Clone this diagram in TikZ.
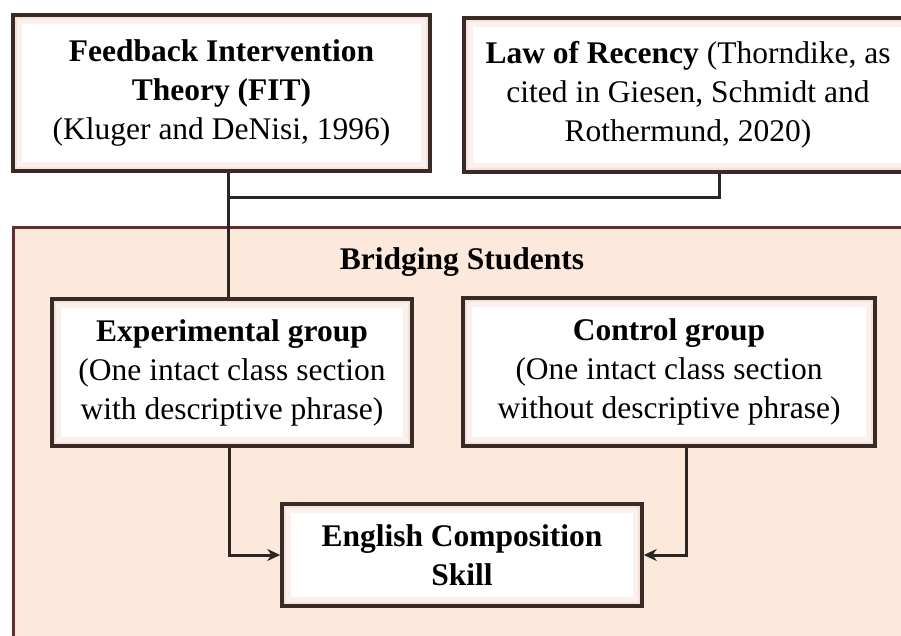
\documentclass[tikz,border=0pt]{standalone}
\usepackage{fontspec}
\setmainfont{Liberation Serif}
\usetikzlibrary{arrows.meta}
\definecolor{panelfill}{HTML}{FCE9DC}
\definecolor{panelline}{HTML}{6B2A2A}
\definecolor{boxline}{HTML}{3A2A26}
\definecolor{boxglow}{HTML}{EFCFC4}
\definecolor{linkline}{HTML}{2A2624}
\tikzset{
  box/.style={draw=boxline, line width=3.5, fill=white, align=center, inner sep=0pt,
    font=\fontsize{31.5}{39}\selectfont,
    path picture={
      \draw[boxglow!30, line width=18] (path picture bounding box.south west) rectangle (path picture bounding box.north east);
      \draw[boxglow!60, line width=8] (path picture bounding box.south west) rectangle (path picture bounding box.north east);
    }},
  link/.style={draw=linkline, line width=3},
  arr/.style={link, -{Stealth[length=13, width=12]}},
}
\begin{document}
\begin{tikzpicture}[x=1pt, y=-1pt]
  \useasboundingbox (0, 0) rectangle (901, 636);
  \clip (0, 0) rectangle (901, 636);
  \fill[white] (0, 0) rectangle (901, 636);
  \filldraw[fill=panelfill, draw=panelline, line width=3] (13, 228) rectangle (920, 660);
  \draw (462, 262) node[font=\bfseries\fontsize{31.5}{39}\selectfont] (title) {Bridging Students};
  \draw (228, 198) coordinate (j1) {};
  \draw (719, 198) coordinate (j2) {};
  \draw (229, 555) coordinate (c1) {};
  \draw (686, 555) coordinate (c2) {};
  \draw (221.5, 93) node[box, minimum width=417, minimum height=156] (fit)
    {\textbf{Feedback Intervention}\\ \textbf{Theory (FIT)}\\ (Kluger and DeNisi, 1996)};
  \draw (688, 95) node[box, minimum width=448, minimum height=154] (law)
    {\textbf{Law of Recency} (Thorndike, as\\ cited in Giesen, Schmidt and\\ Rothermund, 2020)};
  \draw (232, 372.5) node[box, minimum width=360, minimum height=147] (exp)
    {\textbf{Experimental group}\\ (One intact class section\\ with descriptive phrase)};
  \draw (669, 372) node[box, minimum width=412, minimum height=148] (ctrl)
    {\textbf{Control group}\\ (One intact class section\\ without descriptive phrase)};
  \draw (462, 555) node[box, minimum width=360, minimum height=102] (eng)
    {\textbf{English Composition}\\ \textbf{Skill}};
  \draw[link] (fit.south -| j1) -- (exp.north -| j1);
  \draw[link] (j1) -- (j2) -- (law.south -| j2);
  \draw[arr] (exp.south -| c1) -- (c1) -- (eng.west);
  \draw[arr] (ctrl.south -| c2) -- (c2) -- (eng.east);
\end{tikzpicture}
\end{document}
